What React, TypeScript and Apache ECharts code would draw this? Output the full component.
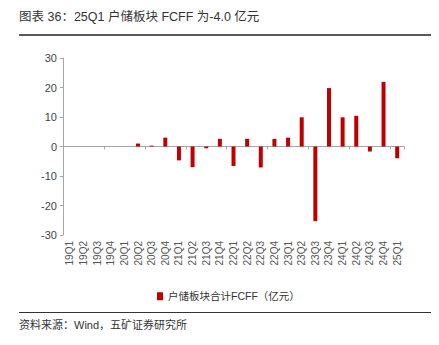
import React, { useEffect, useRef } from "react";
import * as echarts from "echarts";

const categories = [
  "19Q1", "19Q2", "19Q3", "19Q4", "20Q1", "20Q2", "20Q3", "20Q4",
  "21Q1", "21Q2", "21Q3", "21Q4", "22Q1", "22Q2", "22Q3", "22Q4",
  "23Q1", "23Q2", "23Q3", "23Q4", "24Q1", "24Q2", "24Q3", "24Q4", "25Q1",
];
const fcff = [
  0, 0, 0, 0, 0, 1.0, 0.3, 3.0,
  -4.7, -7.0, -0.6, 2.6, -6.6, 2.6, -7.1, 2.6,
  3.0, 9.9, -25.3, 19.8, 9.9, 10.4, -1.7, 21.9, -4.0,
];
const seriesName = "户储板块合计FCFF（亿元）";
const titleText = "图表 36：25Q1 户储板块 FCFF 为-4.0 亿元";
const sourceText = "资料来源：Wind，五矿证券研究所";

const FONT = '"Liberation Sans", "Noto Sans CJK SC", sans-serif';

export default function App() {
  const ref = useRef<HTMLDivElement>(null);
  useEffect(() => {
    if (!ref.current) return;
    const chart = echarts.init(ref.current, null, { renderer: "svg" });
    chart.setOption({
      animation: false,
      backgroundColor: "#ffffff",
      textStyle: { fontFamily: FONT },
      grid: { left: 63, right: 35, top: 58, bottom: 110, containLabel: false },
      legend: {
        data: [seriesName],
        left: 152,
        top: 286,
        icon: "rect",
        itemWidth: 6,
        itemHeight: 8,
        itemGap: 4,
        textStyle: { fontSize: 10.5, color: "#333", fontFamily: FONT },
      },
      xAxis: [
        {
          type: "category",
          data: categories,
          position: "bottom",
          axisLine: { show: false, onZero: false },
          axisTick: { show: false },
          axisLabel: { rotate: 90, fontSize: 10, color: "#555", margin: 6, fontFamily: FONT },
        },
        {
          type: "category",
          data: categories,
          position: "bottom",
          axisLine: { show: true, onZero: true, lineStyle: { color: "#a6a6a6", width: 1 } },
          axisTick: { show: true, length: 3, inside: false, lineStyle: { color: "#a6a6a6" } },
          axisLabel: { show: false },
        },
      ],
      yAxis: {
        type: "value",
        min: -30,
        max: 30,
        interval: 10,
        axisLine: { show: true, lineStyle: { color: "#a6a6a6" } },
        axisTick: { show: true, length: 3, lineStyle: { color: "#a6a6a6" } },
        splitLine: { show: false },
        axisLabel: { fontSize: 11, color: "#444", margin: 6, fontFamily: FONT },
      },
      series: [
        {
          name: seriesName,
          type: "bar",
          data: fcff,
          xAxisIndex: 0,
          barWidth: 4,
          itemStyle: { color: "#c00000" },
        },
      ],
      graphic: [
        {
          type: "text",
          left: 19,
          top: 11,
          style: { text: titleText, fontSize: 12.5, fill: "#333", fontFamily: FONT },
        },
        {
          type: "rect",
          shape: { x: 19, y: 34, width: 412, height: 2 },
          style: { fill: "#595959" },
        },
        {
          type: "rect",
          shape: { x: 19, y: 312, width: 412, height: 1 },
          style: { fill: "#333" },
        },
        {
          type: "text",
          left: 19,
          top: 319,
          style: { text: sourceText, fontSize: 11, fill: "#333", fontFamily: FONT },
        },
      ],
    });
    return () => chart.dispose();
  }, []);
  return (
    <div
      ref={ref}
      style={{ position: "fixed", left: 0, top: 0, width: 439, height: 345 }}
    />
  );
}
